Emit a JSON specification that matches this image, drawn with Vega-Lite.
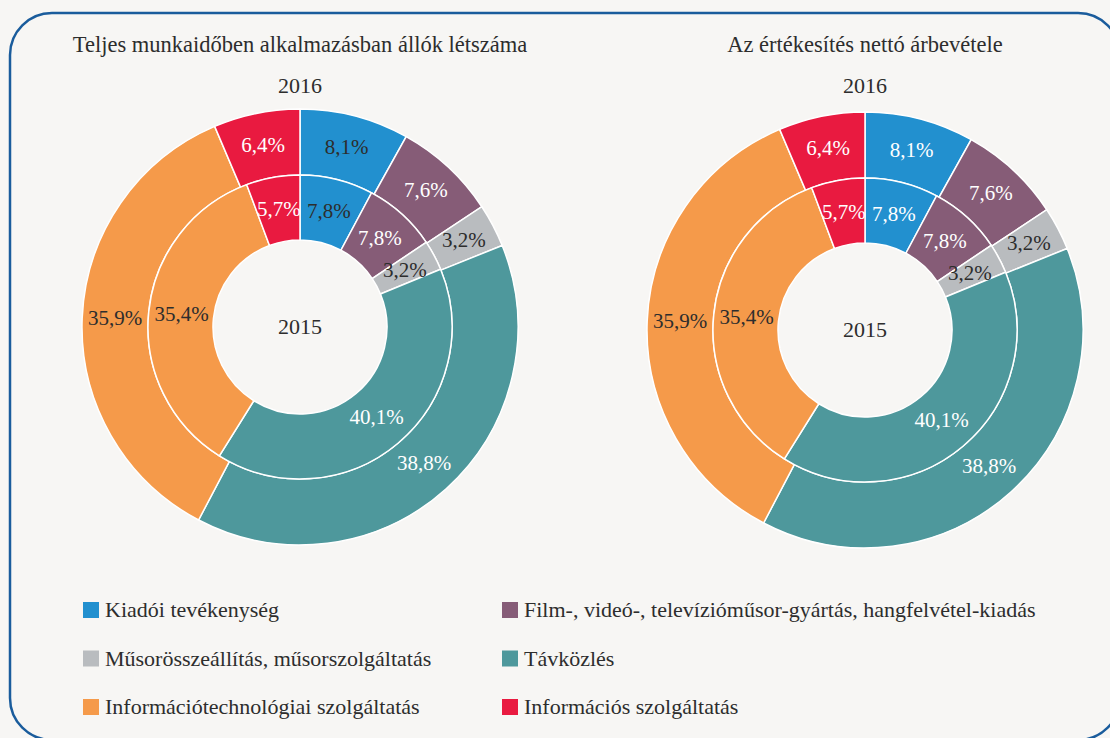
{
  "$schema": "https://vega.github.io/schema/vega-lite/v6.json",
  "width": 1110,
  "height": 738,
  "autosize": {"type": "fit", "contains": "padding"},
  "padding": {"left": 10, "top": 13, "right": -10, "bottom": -2},
  "background": "#f7f6f4",
  "config": {
    "view": {"stroke": "#1a5c9c", "strokeWidth": 2.5, "cornerRadius": 42, "fill": "#f7f6f4"},
    "locale": {"number": {"decimal": ",", "thousands": " ", "grouping": [3], "currency": ["", ""]}},
    "font": "Liberation Serif, serif",
    "text": {"font": "Liberation Serif, serif", "fontSize": 21, "color": "#2d2d2d"},
    "legend": {
      "orient": "none",
      "direction": "horizontal",
      "legendX": 70,
      "legendY": 586,
      "columns": 2,
      "padding": 0,
      "rowPadding": 26.5,
      "columnPadding": 67,
      "symbolType": "square",
      "symbolSize": 256,
      "symbolStrokeWidth": 0,
      "labelFont": "Liberation Serif, serif",
      "labelFontSize": 22,
      "labelColor": "#2d2d2d",
      "labelOffset": 3,
      "labelLimit": 700,
      "title": null
    }
  },
  "data": {
    "values": [
      {"chart": "Teljes munkaidőben alkalmazásban állók létszáma", "year": "2016", "o": 1, "cat": "Kiadói tevékenység", "v": 0.081},
      {"chart": "Teljes munkaidőben alkalmazásban állók létszáma", "year": "2016", "o": 2, "cat": "Film-, videó-, televízióműsor-gyártás, hangfelvétel-kiadás", "v": 0.076},
      {"chart": "Teljes munkaidőben alkalmazásban állók létszáma", "year": "2016", "o": 3, "cat": "Műsorösszeállítás, műsorszolgáltatás", "v": 0.032},
      {"chart": "Teljes munkaidőben alkalmazásban állók létszáma", "year": "2016", "o": 4, "cat": "Távközlés", "v": 0.388},
      {"chart": "Teljes munkaidőben alkalmazásban állók létszáma", "year": "2016", "o": 5, "cat": "Információtechnológiai szolgáltatás", "v": 0.359},
      {"chart": "Teljes munkaidőben alkalmazásban állók létszáma", "year": "2016", "o": 6, "cat": "Információs szolgáltatás", "v": 0.064},
      {"chart": "Teljes munkaidőben alkalmazásban állók létszáma", "year": "2015", "o": 1, "cat": "Kiadói tevékenység", "v": 0.078},
      {"chart": "Teljes munkaidőben alkalmazásban állók létszáma", "year": "2015", "o": 2, "cat": "Film-, videó-, televízióműsor-gyártás, hangfelvétel-kiadás", "v": 0.078},
      {"chart": "Teljes munkaidőben alkalmazásban állók létszáma", "year": "2015", "o": 3, "cat": "Műsorösszeállítás, műsorszolgáltatás", "v": 0.032},
      {"chart": "Teljes munkaidőben alkalmazásban állók létszáma", "year": "2015", "o": 4, "cat": "Távközlés", "v": 0.401},
      {"chart": "Teljes munkaidőben alkalmazásban állók létszáma", "year": "2015", "o": 5, "cat": "Információtechnológiai szolgáltatás", "v": 0.354},
      {"chart": "Teljes munkaidőben alkalmazásban állók létszáma", "year": "2015", "o": 6, "cat": "Információs szolgáltatás", "v": 0.057},
      {"chart": "Az értékesítés nettó árbevétele", "year": "2016", "o": 1, "cat": "Kiadói tevékenység", "v": 0.081},
      {"chart": "Az értékesítés nettó árbevétele", "year": "2016", "o": 2, "cat": "Film-, videó-, televízióműsor-gyártás, hangfelvétel-kiadás", "v": 0.076},
      {"chart": "Az értékesítés nettó árbevétele", "year": "2016", "o": 3, "cat": "Műsorösszeállítás, műsorszolgáltatás", "v": 0.032},
      {"chart": "Az értékesítés nettó árbevétele", "year": "2016", "o": 4, "cat": "Távközlés", "v": 0.388},
      {"chart": "Az értékesítés nettó árbevétele", "year": "2016", "o": 5, "cat": "Információtechnológiai szolgáltatás", "v": 0.359},
      {"chart": "Az értékesítés nettó árbevétele", "year": "2016", "o": 6, "cat": "Információs szolgáltatás", "v": 0.064},
      {"chart": "Az értékesítés nettó árbevétele", "year": "2015", "o": 1, "cat": "Kiadói tevékenység", "v": 0.078},
      {"chart": "Az értékesítés nettó árbevétele", "year": "2015", "o": 2, "cat": "Film-, videó-, televízióműsor-gyártás, hangfelvétel-kiadás", "v": 0.078},
      {"chart": "Az értékesítés nettó árbevétele", "year": "2015", "o": 3, "cat": "Műsorösszeállítás, műsorszolgáltatás", "v": 0.032},
      {"chart": "Az értékesítés nettó árbevétele", "year": "2015", "o": 4, "cat": "Távközlés", "v": 0.401},
      {"chart": "Az értékesítés nettó árbevétele", "year": "2015", "o": 5, "cat": "Információtechnológiai szolgáltatás", "v": 0.354},
      {"chart": "Az értékesítés nettó árbevétele", "year": "2015", "o": 6, "cat": "Információs szolgáltatás", "v": 0.057}
    ]
  },
  "encoding": {
    "x": {
      "field": "chart",
      "type": "nominal",
      "scale": {
        "type": "point",
        "padding": 0.4823,
        "align": 0.5321,
        "domain": ["Teljes munkaidőben alkalmazásban állók létszáma", "Az értékesítés nettó árbevétele"]
      },
      "axis": null
    }
  },
  "resolve": {"scale": {"fill": "independent"}},
  "layer": [
    {
      "transform": [{"aggregate": [{"op": "count", "as": "n"}], "groupby": ["chart"]}],
      "mark": {"type": "text", "fontSize": 22.5, "yOffset": -331.5, "baseline": "middle"},
      "encoding": {"text": {"field": "chart", "type": "nominal"}}
    },
    {
      "transform": [
        {"filter": "datum.year === '2016'"},
        {"aggregate": [{"op": "count", "as": "n"}], "groupby": ["chart", "year"]}
      ],
      "mark": {"type": "text", "fontSize": 22, "yOffset": -290.5, "baseline": "middle"},
      "encoding": {"text": {"field": "year", "type": "nominal"}}
    },
    {
      "transform": [{"filter": "datum.chart === 'Teljes munkaidőben alkalmazásban állók létszáma'"}],
      "layer": [
        {
          "transform": [{"filter": "datum.year === '2016'"}],
          "mark": {"type": "arc", "radius": 218, "radius2": 152, "stroke": "#ffffff", "strokeWidth": 1.5, "yOffset": -49.5},
          "encoding": {
            "theta": {"field": "v", "type": "quantitative", "stack": true, "scale": {"domain": [0, 1]}},
            "order": {"field": "o", "type": "quantitative"},
            "color": {
              "field": "cat", "type": "nominal",
              "scale": {
                "domain": ["Kiadói tevékenység", "Film-, videó-, televízióműsor-gyártás, hangfelvétel-kiadás", "Műsorösszeállítás, műsorszolgáltatás", "Távközlés", "Információtechnológiai szolgáltatás", "Információs szolgáltatás"],
                "range": ["#2290cf", "#865c77", "#b9bcbf", "#4e989c", "#f59a4a", "#e91a40"]
              }
            }
          }
        },
        {
          "transform": [{"filter": "datum.year === '2016'"}],
          "mark": {"type": "text", "radius": 185, "fontSize": 21, "yOffset": -49.5},
          "encoding": {
            "theta": {"field": "v", "type": "quantitative", "stack": true, "scale": {"domain": [0, 1]}},
            "order": {"field": "o", "type": "quantitative"},
            "text": {"field": "v", "type": "quantitative", "format": ".1%"},
            "fill": {
              "field": "cat", "type": "nominal", "legend": null,
              "scale": {
                "domain": ["Kiadói tevékenység", "Film-, videó-, televízióműsor-gyártás, hangfelvétel-kiadás", "Műsorösszeállítás, műsorszolgáltatás", "Távközlés", "Információtechnológiai szolgáltatás", "Információs szolgáltatás"],
                "range": ["#2d2d2d", "#ffffff", "#2d2d2d", "#ffffff", "#2d2d2d", "#ffffff"]
              }
            }
          }
        },
        {
          "transform": [{"filter": "datum.year === '2015'"}],
          "mark": {"type": "arc", "radius": 152, "radius2": 87, "stroke": "#ffffff", "strokeWidth": 1.5, "yOffset": -49.5},
          "encoding": {
            "theta": {"field": "v", "type": "quantitative", "stack": true, "scale": {"domain": [0, 1]}},
            "order": {"field": "o", "type": "quantitative"},
            "color": {"field": "cat", "type": "nominal"}
          }
        },
        {
          "transform": [{"filter": "datum.year === '2015'"}],
          "mark": {"type": "text", "radius": 119, "fontSize": 21, "yOffset": -49.5},
          "encoding": {
            "theta": {"field": "v", "type": "quantitative", "stack": true, "scale": {"domain": [0, 1]}},
            "order": {"field": "o", "type": "quantitative"},
            "text": {"field": "v", "type": "quantitative", "format": ".1%"},
            "fill": {"field": "cat", "type": "nominal", "legend": null}
          }
        },
        {
          "transform": [
            {"filter": "datum.year === '2015'"},
            {"aggregate": [{"op": "count", "as": "n"}], "groupby": ["chart", "year"]}
          ],
          "mark": {"type": "text", "fontSize": 22, "yOffset": -49.5, "baseline": "middle"},
          "encoding": {"text": {"field": "year", "type": "nominal"}}
        }
      ]
    },
    {
      "transform": [{"filter": "datum.chart === 'Az értékesítés nettó árbevétele'"}],
      "layer": [
        {
          "transform": [{"filter": "datum.year === '2016'"}],
          "mark": {"type": "arc", "radius": 218, "radius2": 152, "stroke": "#ffffff", "strokeWidth": 1.5, "yOffset": -46.5},
          "encoding": {
            "theta": {"field": "v", "type": "quantitative", "stack": true, "scale": {"domain": [0, 1]}},
            "order": {"field": "o", "type": "quantitative"},
            "color": {"field": "cat", "type": "nominal"}
          }
        },
        {
          "transform": [{"filter": "datum.year === '2016'"}],
          "mark": {"type": "text", "radius": 185, "fontSize": 21, "yOffset": -46.5},
          "encoding": {
            "theta": {"field": "v", "type": "quantitative", "stack": true, "scale": {"domain": [0, 1]}},
            "order": {"field": "o", "type": "quantitative"},
            "text": {"field": "v", "type": "quantitative", "format": ".1%"},
            "fill": {
              "field": "cat", "type": "nominal", "legend": null,
              "scale": {
                "domain": ["Kiadói tevékenység", "Film-, videó-, televízióműsor-gyártás, hangfelvétel-kiadás", "Műsorösszeállítás, műsorszolgáltatás", "Távközlés", "Információtechnológiai szolgáltatás", "Információs szolgáltatás"],
                "range": ["#ffffff", "#ffffff", "#2d2d2d", "#ffffff", "#2d2d2d", "#ffffff"]
              }
            }
          }
        },
        {
          "transform": [{"filter": "datum.year === '2015'"}],
          "mark": {"type": "arc", "radius": 152, "radius2": 87, "stroke": "#ffffff", "strokeWidth": 1.5, "yOffset": -46.5},
          "encoding": {
            "theta": {"field": "v", "type": "quantitative", "stack": true, "scale": {"domain": [0, 1]}},
            "order": {"field": "o", "type": "quantitative"},
            "color": {"field": "cat", "type": "nominal"}
          }
        },
        {
          "transform": [{"filter": "datum.year === '2015'"}],
          "mark": {"type": "text", "radius": 119, "fontSize": 21, "yOffset": -46.5},
          "encoding": {
            "theta": {"field": "v", "type": "quantitative", "stack": true, "scale": {"domain": [0, 1]}},
            "order": {"field": "o", "type": "quantitative"},
            "text": {"field": "v", "type": "quantitative", "format": ".1%"},
            "fill": {"field": "cat", "type": "nominal", "legend": null}
          }
        },
        {
          "transform": [
            {"filter": "datum.year === '2015'"},
            {"aggregate": [{"op": "count", "as": "n"}], "groupby": ["chart", "year"]}
          ],
          "mark": {"type": "text", "fontSize": 22, "yOffset": -46.5, "baseline": "middle"},
          "encoding": {"text": {"field": "year", "type": "nominal"}}
        }
      ]
    }
  ]
}
